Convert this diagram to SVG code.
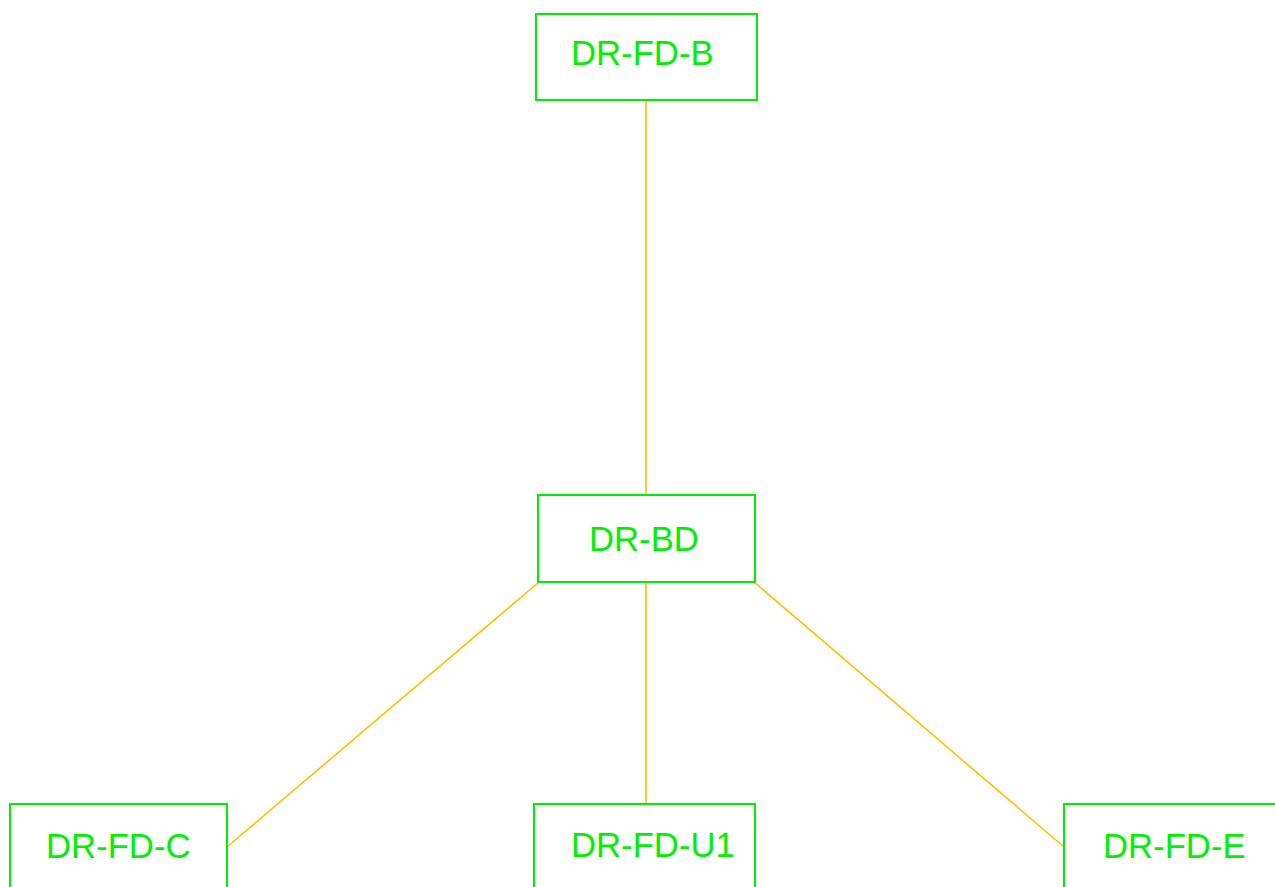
<svg xmlns="http://www.w3.org/2000/svg" width="1275" height="887" viewBox="0 0 1275 887">
<style>
.box{fill:#fff;stroke:#00ee00;stroke-width:2}
.lbl{fill:#00f000;font-family:"Liberation Sans",Arial,sans-serif;font-size:34.7px}
.conn{stroke:#ffc000;stroke-width:1.6;fill:none}
</style>
<rect width="1275" height="887" fill="#fff"/>
<g id="connectors">
<line class="conn" x1="646" y1="100" x2="646" y2="495"/>
<line class="conn" x1="539" y1="582" x2="227" y2="847"/>
<line class="conn" x1="646" y1="582" x2="646" y2="804"/>
<line class="conn" x1="754" y1="582" x2="1064" y2="847"/>
</g>
<g id="DR-FD-B"><rect class="box" x="536" y="14" width="221" height="86"/><text class="lbl" x="571" y="65">DR-FD-B</text></g>
<g id="DR-BD"><rect class="box" x="538" y="495" width="217" height="87"/><text class="lbl" x="589" y="551">DR-BD</text></g>
<g id="DR-FD-C"><rect class="box" x="10" y="804" width="217" height="90"/><text class="lbl" x="46" y="858">DR-FD-C</text></g>
<g id="DR-FD-U1"><rect class="box" x="534" y="804" width="221" height="90"/><text class="lbl" x="571" y="857">DR-FD-U1</text></g>
<g id="DR-FD-E"><rect class="box" x="1064" y="804" width="220" height="90"/><text class="lbl" x="1103" y="858">DR-FD-E</text></g>
</svg>
